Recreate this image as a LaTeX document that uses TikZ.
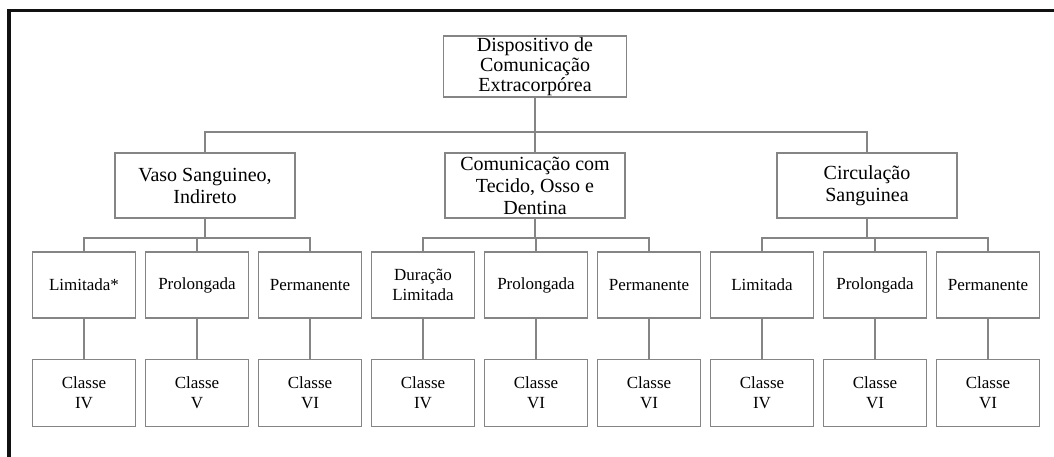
\documentclass[tikz,border=0pt]{standalone}
\usepackage{fontspec}
\setmainfont{Liberation Serif}
\usetikzlibrary{positioning,calc}
\definecolor{boxgray}{HTML}{858585}
\definecolor{framegray}{HTML}{111111}

\begin{document}
\begin{tikzpicture}[
  x=1pt, y=1pt,
  topcard/.style={
    draw=boxgray,
    fill=white,
    line width=1.6pt,
    inner sep=0pt,
    minimum width=183pt,
    minimum height=61pt,
    align=center,
    font=\fontsize{20}{20}\selectfont
  },
  groupcard/.style={
    draw=boxgray,
    fill=white,
    line width=1.6pt,
    inner sep=0pt,
    minimum width=180pt,
    minimum height=65pt,
    align=center,
    font=\fontsize{20}{22}\selectfont
  },
  durcard/.style={
    draw=boxgray,
    fill=white,
    line width=1.6pt,
    inner sep=0pt,
    minimum width=103pt,
    minimum height=66pt,
    align=center,
    font=\fontsize{17}{20}\selectfont
  },
  classcard/.style={
    durcard,
    minimum height=67pt
  },
  link/.style={
    draw=boxgray,
    line width=1.6pt
  },
  frameline/.style={
    draw=framegray,
    line width=3.5pt
  }
]
  \useasboundingbox (0,0) rectangle (1054,-457);

  % ----------------------------------------------------
  % OUTER FRAME (cut off at right and bottom)
  % ----------------------------------------------------
  \draw[frameline] (9,-462) -- (9,-10.5) -- (1060,-10.5);

  % ----------------------------------------------------
  % ROOT AND GROUPS
  % ----------------------------------------------------
  \node[topcard] (root) at (535, -66.5) {Dispositivo de\\Comunicação\\Extracorpórea};

  \node[groupcard] (vaso) at (205, -185.5) {Vaso Sanguineo,\\Indireto};
  \node[groupcard] (tecido) at (535, -185.5) {Comunicação com\\Tecido, Osso e\\Dentina};
  \node[groupcard] (circ) at (867, -185.5) {Circulação\\Sanguinea};

  % ----------------------------------------------------
  % CONTACT DURATION
  % ----------------------------------------------------
  \node[durcard] (vlim) at (84, -285) {Limitada*};
  \node[durcard] (vpro) at (197, -285) {Prolongada};
  \node[durcard] (vper) at (310, -285) {Permanente};

  \node[durcard] (tlim) at (423, -285) {Duração\\Limitada};
  \node[durcard] (tpro) at (536, -285) {Prolongada};
  \node[durcard] (tper) at (649, -285) {Permanente};

  \node[durcard] (clim) at (762, -285) {Limitada};
  \node[durcard] (cpro) at (875, -285) {Prolongada};
  \node[durcard] (cper) at (988, -285) {Permanente};

  % ----------------------------------------------------
  % CLASSES
  % ----------------------------------------------------
  \node[classcard, below=40pt of vlim] (vlimc) {Classe\\IV};
  \node[classcard, below=40pt of vpro] (vproc) {Classe\\V};
  \node[classcard, below=40pt of vper] (vperc) {Classe\\VI};

  \node[classcard, below=40pt of tlim] (tlimc) {Classe\\IV};
  \node[classcard, below=40pt of tpro] (tproc) {Classe\\VI};
  \node[classcard, below=40pt of tper] (tperc) {Classe\\VI};

  \node[classcard, below=40pt of clim] (climc) {Classe\\IV};
  \node[classcard, below=40pt of cpro] (cproc) {Classe\\VI};
  \node[classcard, below=40pt of cper] (cperc) {Classe\\VI};

  % Root to groups
  \foreach \grp in {vaso, tecido, circ}
    \draw[link] (root.south) -- ++(0,-34) -| (\grp.north);

  % Groups to durations
  \foreach \grp/\kid in {vaso/vlim, vaso/vpro, vaso/vper,
                         tecido/tlim, tecido/tpro, tecido/tper,
                         circ/clim, circ/cpro, circ/cper}
    \draw[link] (\grp.south) -- ++(0,-19) -| (\kid.north);

  % Durations to classes
  \foreach \kid in {vlim, vpro, vper, tlim, tpro, tper, clim, cpro, cper}
    \draw[link] (\kid.south) -- (\kid c.north);

\end{tikzpicture}
\end{document}
